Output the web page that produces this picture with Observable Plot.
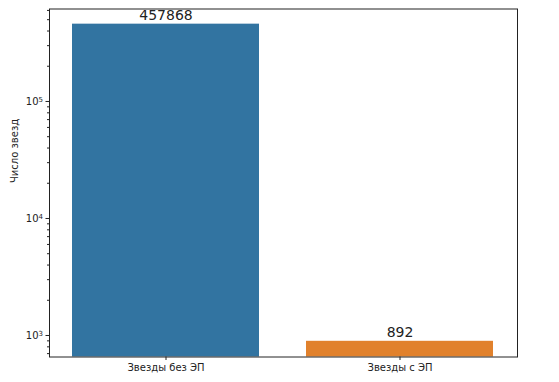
<!DOCTYPE html>
<html><head><meta charset="utf-8">
<script src="https://cdn.jsdelivr.net/npm/d3@7"></script>
<script src="https://cdn.jsdelivr.net/npm/@observablehq/plot@0.6"></script>
<style>body{margin:0;background:#fff} svg{font-family:"DejaVu Sans";}</style>
</head><body><div id="chart"></div>
<script>
const categories = ["Звезды без ЭП", "Звезды с ЭП"];
const counts = [457868, 892];
const colors = ["#3274a1", "#e1812c"];
const majorTicks = [1e3, 1e4, 1e5];
const yLabel = "Число звезд";
const yDomain = [655, 617000];

const data = categories.map((c, i) => ({category: c, count: counts[i]}));
const minorTicks = [];
for (const p of [100, 1000, 10000, 100000]) for (let k = 2; k <= 9; k++) {
  const v = p * k;
  if (v >= yDomain[0] && v <= yDomain[1]) minorTicks.push(v);
}
const fmt = v => "10^" + Math.round(Math.log10(v));

const chart = Plot.plot({
  width: 559, height: 382,
  marginLeft: 49, marginRight: 42, marginTop: 8.5, marginBottom: 25.5,
  style: {fontFamily: "DejaVu Sans", fontSize: "10px", color: "#222", background: "#fff"},
  x: {domain: categories, paddingInner: 0.2, paddingOuter: 0.1, label: null},
  y: {type: "log", domain: yDomain, label: null},
  color: {domain: categories, range: colors},
  marks: [
    Plot.barY(data, {x: "category", y1: 1, y2: "count", fill: "category", clip: true}),
    Plot.text(data, {x: "category", y: "count", text: d => String(d.count), dy: -9, fontSize: 14, fill: "#222"}),
    Plot.axisX({tickSize: 3.5, tickPadding: 3, fontSize: 10, label: null, stroke: "#222"}),
    Plot.axisY(majorTicks, {tickSize: 3.5, tickPadding: 3, tickFormat: fmt, fontSize: 10, label: null}),
    Plot.axisY(minorTicks, {tickSize: 2, tickFormat: () => "", label: null}),
    Plot.frame({stroke: "#222", strokeWidth: 1}),
    Plot.text([yLabel], {frameAnchor: "left", rotate: -90, dx: -35, fontSize: 10, fill: "#222"})
  ]
});
// render exponents as raised, smaller text
d3.select(chart).selectAll("text").each(function() {
  const t = d3.select(this);
  const s = t.text();
  const m = /^10\^(\d+)$/.exec(s);
  if (m) {
    t.text("10");
    t.append("tspan").attr("font-size", 7).attr("dy", "-0.45em").text(m[1]);
  }
});
document.getElementById("chart").appendChild(chart);
</script>
</body></html>
